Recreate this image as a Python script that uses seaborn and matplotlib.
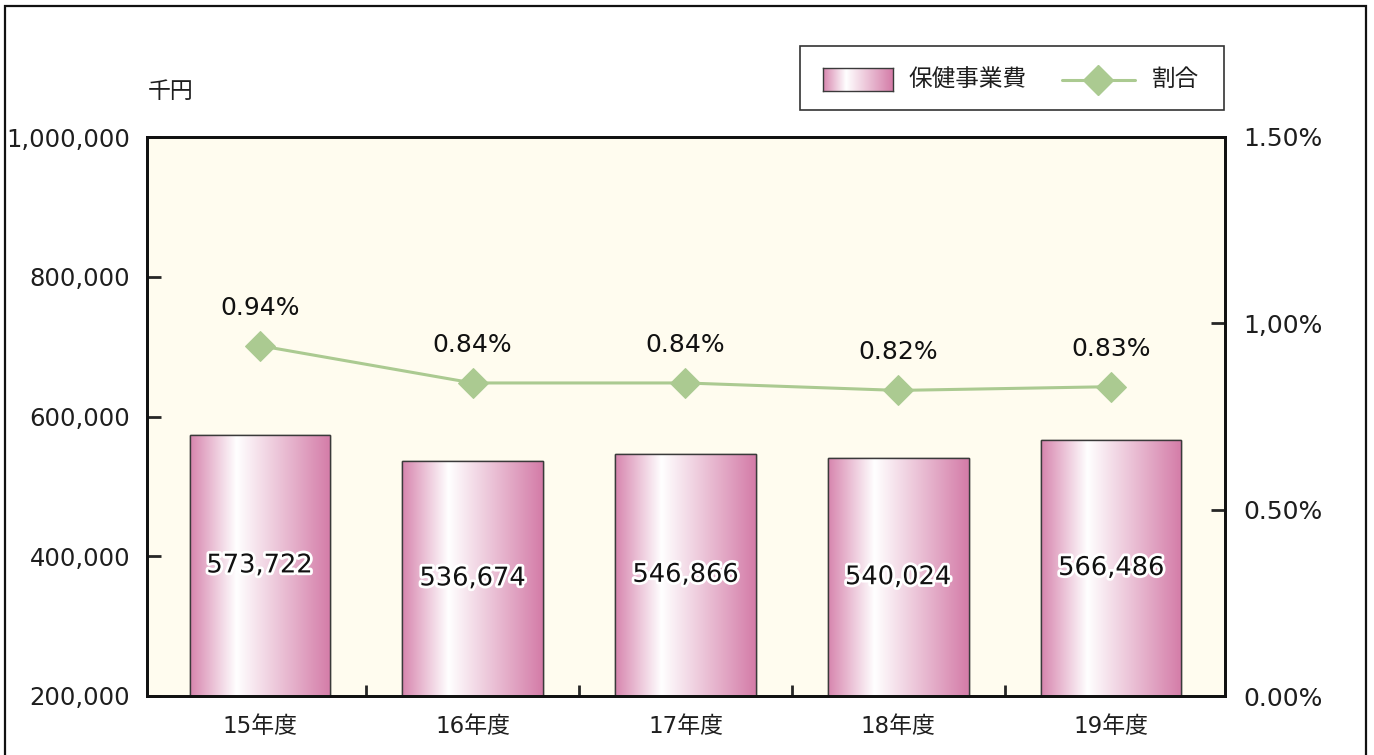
import numpy as np
import pandas as pd
import seaborn as sns
import matplotlib.pyplot as plt
import matplotlib.patheffects as pe
from matplotlib.colors import LinearSegmentedColormap
from matplotlib.patches import Rectangle
from matplotlib.ticker import FixedLocator

# data
years = ['15年度', '16年度', '17年度', '18年度', '19年度']
costs = [573722, 536674, 546866, 540024, 566486]
ratios = [0.94, 0.84, 0.84, 0.82, 0.83]
left_ticks = [200000, 400000, 600000, 800000, 1000000]
left_labels = ['200,000', '400,000', '600,000', '800,000', '1,000,000']
right_ticks = [0.0, 0.5, 1.0, 1.5]
right_labels = ['0.00%', '0.50%', '1,00%', '1.50%']

sns.set_style('white')
# digits in DejaVu (wide), CJK falls back to Noto
plt.rcParams['font.family'] = ['DejaVu Sans', 'Noto Sans CJK JP']

pink = '#D57EAA'
green = '#ABCA91'
bg = '#FFFCEF'
txt = '#1e1e1e'
grad = LinearSegmentedColormap.from_list('g', [(0, '#D785AE'), (0.33, '#FFFFFF'), (1, '#D47CA8')])

fig = plt.figure(figsize=(13.74, 7.55), dpi=100)
ax = fig.add_axes([147/1374, 1 - 696/755, 1078/1374, 559/755])
ax.set_facecolor(bg)

df = pd.DataFrame({'year': years, 'cost': costs})
sns.barplot(data=df, x='year', y='cost', ax=ax, color=pink, width=0.66,
            edgecolor='#3a3a3a', linewidth=1.0, zorder=2)

# gradient fill for bars
g = np.linspace(0, 1, 256).reshape(1, -1)
for p in ax.patches:
    x0, w = p.get_x(), p.get_width()
    im = ax.imshow(g, cmap=grad, aspect='auto', extent=[x0, x0 + w, 200000, p.get_height()],
                   zorder=2.1)
    im.set_clip_path(p)
    ax.add_patch(Rectangle((x0, 200000), w, p.get_height() - 200000, fill=False,
                           edgecolor='#3a3a3a', linewidth=1.0, zorder=2.2))
xl = (-0.53, 4.535)
ax.set_xlim(*xl)
ax.set_ylim(200000, 1000000)

for i, v in enumerate(costs):
    ax.text(i, 200000 + (v - 200000) / 2, f'{v:,}', ha='center', va='center', fontsize=18.5,
            color='#111111', zorder=5,
            path_effects=[pe.withStroke(linewidth=4, foreground='white')])

ax.set_yticks(left_ticks)
ax.set_yticklabels(left_labels, fontsize=17.5, color=txt)
ax.set_xticks(range(5))
ax.set_xticklabels(years, fontsize=16.5, color=txt)
ax.xaxis.set_minor_locator(FixedLocator([0.5, 1.5, 2.5, 3.5]))
ax.tick_params(axis='x', which='major', length=0, pad=14)
ax.tick_params(axis='x', which='minor', direction='in', length=8, width=2, bottom=True)
ax.tick_params(axis='y', direction='in', length=10, width=2, left=True, pad=12)
ax.set_xlabel('')
ax.set_ylabel('')
for s in ax.spines.values():
    s.set_linewidth(2)
    s.set_color('#111111')

# ratio line on right axis
ax2 = ax.twinx()
sns.lineplot(x=list(range(5)), y=ratios, ax=ax2, color=green, linewidth=2.2,
             marker='D', markersize=15, markeredgecolor=green, zorder=4)
ax2.set_xlim(*xl)
ax2.set_ylim(0, 1.5)
ax2.set_yticks(right_ticks)
ax2.set_yticklabels(right_labels, fontsize=18, color=txt)
ax2.tick_params(axis='y', direction='in', length=10, width=2, right=True, pad=13)
for s in ax2.spines.values():
    s.set_linewidth(2)
    s.set_color('#111111')
for i, r in enumerate(ratios):
    ax2.text(i, r + 0.102, f'{r:.2f}%', ha='center', va='center', fontsize=18, color='#111111')

fig.text(171/1374, 1 - 92/755, '千円', ha='center', va='center', fontsize=16.5, color=txt)

# legend
lx0, ly0, lx1, ly1 = 800, 46, 1224, 110
fig.patches.append(Rectangle((lx0/1374, 1 - ly1/755), (lx1 - lx0)/1374, (ly1 - ly0)/755,
                             transform=fig.transFigure, fill=False, edgecolor='#333333', linewidth=1.2))
lax = fig.add_axes([823/1374, 1 - 91/755, 70/1374, 23/755])
lax.imshow(g, cmap=grad, aspect='auto', extent=[0, 1, 0, 1])
lax.set_xticks([])
lax.set_yticks([])
for s in lax.spines.values():
    s.set_color('#3a3a3a')
    s.set_linewidth(1.0)
fig.text(908/1374, 1 - 79/755, '保健事業費', ha='left', va='center', fontsize=17, color=txt)
fig.add_artist(plt.Line2D([1062/1374, 1135/1374], [1 - 80/755, 1 - 80/755], color=green,
                          linewidth=2.2, transform=fig.transFigure))
fig.add_artist(plt.Line2D([1098/1374], [1 - 80/755], color=green, linewidth=0,
                          marker='D', markersize=15, transform=fig.transFigure))
fig.text(1152/1374, 1 - 79/755, '割合', ha='left', va='center', fontsize=17, color=txt)

# outer frame
fig.patches.append(Rectangle((5/1374, -0.01), 1361/1374, 1 - 6/755 + 0.01, transform=fig.transFigure,
                             fill=False, edgecolor='#111111', linewidth=1.6))

fig.savefig('out.png', dpi=100)
